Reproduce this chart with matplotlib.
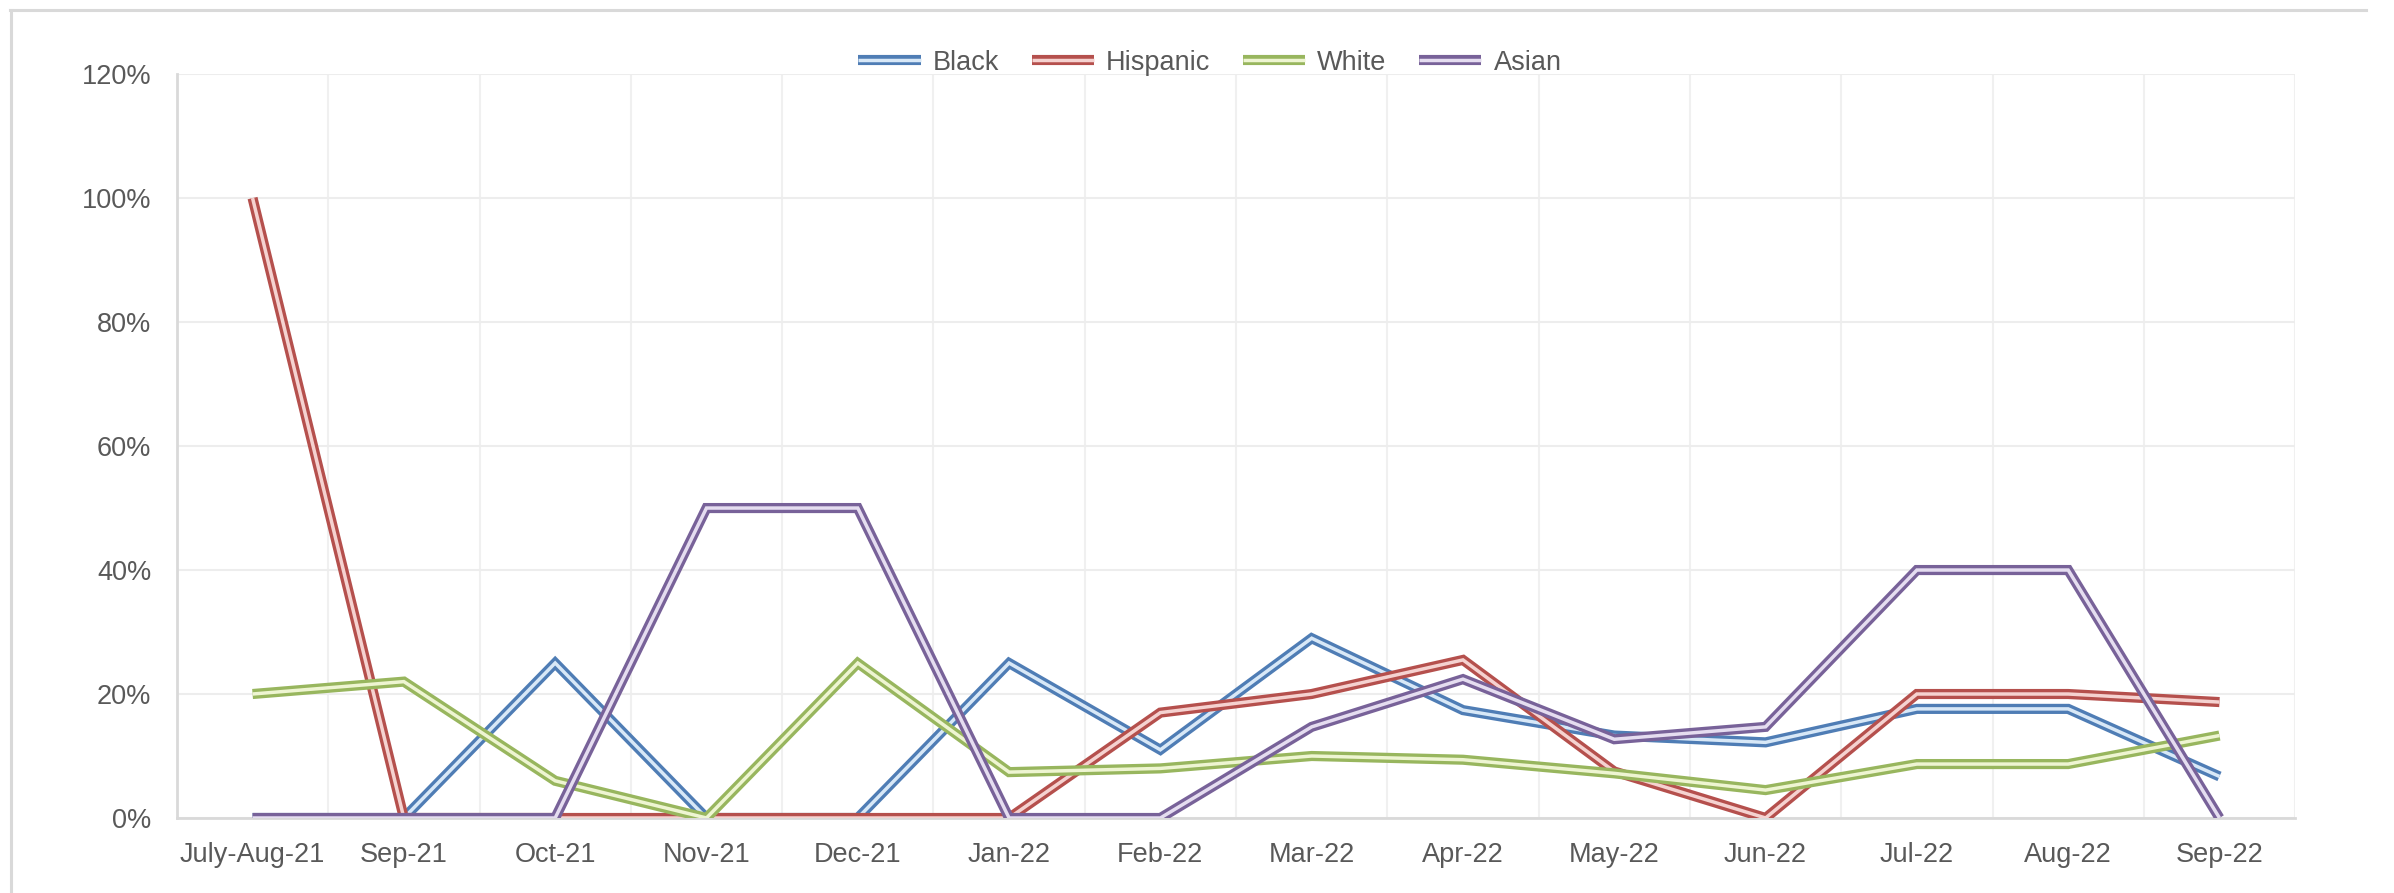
import numpy as np
from matplotlib import pyplot as plt
from matplotlib.lines import Line2D
from matplotlib.legend_handler import HandlerTuple
from matplotlib.ticker import FuncFormatter

months = ['July-Aug-21', 'Sep-21', 'Oct-21', 'Nov-21', 'Dec-21', 'Jan-22', 'Feb-22',
          'Mar-22', 'Apr-22', 'May-22', 'Jun-22', 'Jul-22', 'Aug-22', 'Sep-22']

black = [0, 0, 25, 0, 0, 25, 11, 29, 17.4, 13.3, 12.2, 17.6, 17.6, 6.7]
hispanic = [100, 0, 0, 0, 0, 0, 17, 20, 25.5, 7.5, 0, 20, 20, 18.7]
white = [20, 22, 6, 0, 25, 7.4, 8, 10, 9.4, 7.2, 4.5, 8.7, 8.7, 13.3]
asian = [0, 0, 0, 50, 50, 0, 0, 14.7, 22.4, 12.7, 14.7, 40, 40, 0]

series = [
    ('Black', black, '#4f7db5', '#d8e8f7'),
    ('Hispanic', hispanic, '#b5504d', '#f5d2d0'),
    ('White', white, '#98b65e', '#eef5d2'),
    ('Asian', asian, '#786299', '#e5ddf0'),
]

text_col = '#595959'
plt.rcParams['font.family'] = ['Liberation Sans', 'DejaVu Sans']
plt.rcParams['font.size'] = 19.5

fig = plt.figure(figsize=(23.94, 8.93), dpi=100)
ax = fig.add_axes([0.0739, 0.084, 0.9587 - 0.0739, 0.917 - 0.084])

x = np.arange(len(months))
handles = []
for name, vals, col, gap in series:
    # double line: thick coloured stroke with a pale stroke down the middle
    ax.plot(x, vals, color=col, lw=7.3, solid_joinstyle='miter',
            solid_capstyle='butt', zorder=3)
    ax.plot(x, vals, color=gap, lw=2.5, solid_joinstyle='miter',
            solid_capstyle='butt', zorder=3)
    h1 = Line2D([], [], color=col, lw=7.3, solid_capstyle='butt')
    h2 = Line2D([], [], color=gap, lw=2.5, solid_capstyle='butt')
    handles.append(((h1, h2), name))

ax.set_xlim(-0.5, len(months) - 0.5)
ax.set_ylim(0, 120)
ax.set_yticks(np.arange(0, 121, 20))
ax.yaxis.set_major_formatter(FuncFormatter(lambda v, p: '%d%%' % v))
ax.set_xticks(x)
ax.set_xticklabels(months)
ax.set_xticks(np.arange(-0.5, len(months), 1), minor=True)

ax.grid(axis='y', which='major', color='#ededed', lw=1.5, zorder=0)
ax.grid(axis='x', which='minor', color='#f0f0f0', lw=1.5, zorder=0)
ax.grid(axis='x', which='major', visible=False)
ax.set_axisbelow(True)

for s in ['top', 'right']:
    ax.spines[s].set_visible(False)
for s in ['left', 'bottom']:
    ax.spines[s].set_color('#d9d9d9')
    ax.spines[s].set_linewidth(2)

ax.tick_params(axis='both', which='both', length=0, colors=text_col)
ax.tick_params(axis='y', pad=18.5)
ax.tick_params(axis='x', pad=17)

fig.legend([h for h, n in handles], [n for h, n in handles],
           handler_map={tuple: HandlerTuple(ndivide=1, pad=0)},
           loc='center', bbox_to_anchor=(0.5054, 0.9295), ncol=4, frameon=False,
           handlelength=2.3, handletextpad=0.45, columnspacing=1.2,
           labelcolor=text_col, fontsize=19.5)

# chart area border (top and left edges show in the original)
fig.add_artist(Line2D([10 / 2394, 2366 / 2394], [1 - 10 / 893, 1 - 10 / 893],
                      transform=fig.transFigure, color='#d9d9d9', lw=2.2))
fig.add_artist(Line2D([11 / 2394, 11 / 2394], [0, 1 - 10 / 893],
                      transform=fig.transFigure, color='#d9d9d9', lw=2.2))

fig.savefig('out.png', dpi=100)
